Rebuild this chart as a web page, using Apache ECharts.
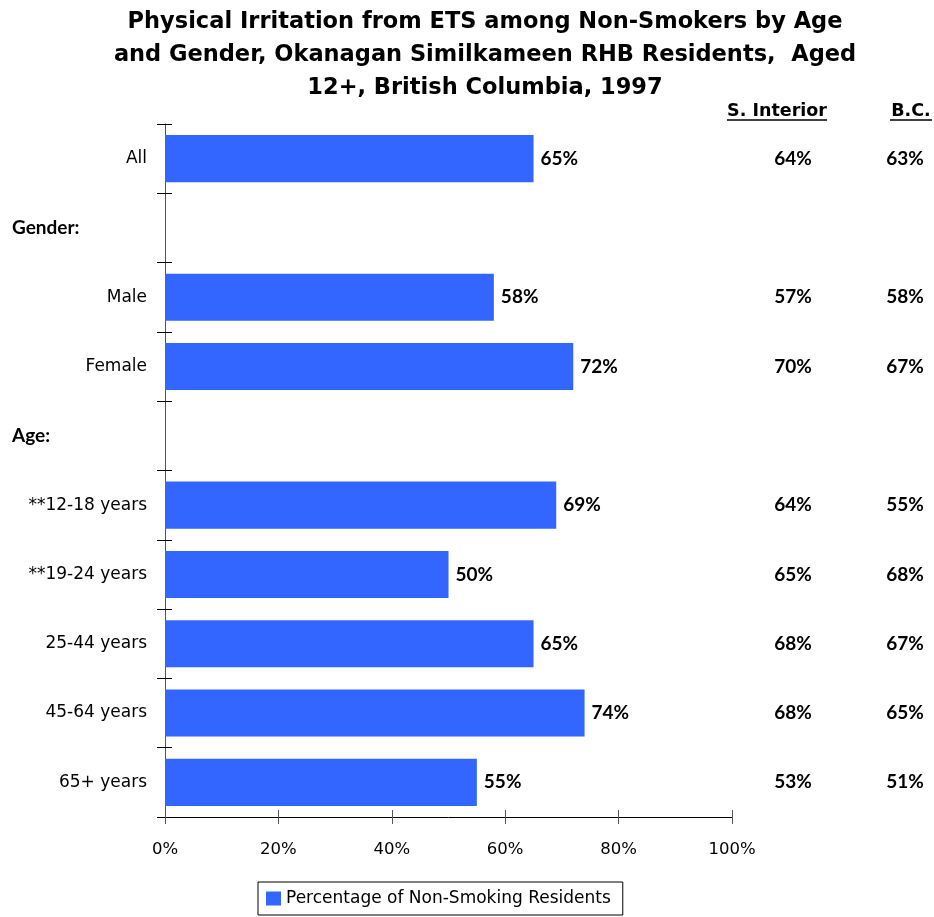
<!DOCTYPE html>
<html>
<head>
<meta charset="utf-8">
<script src="https://cdn.jsdelivr.net/npm/echarts@6/dist/echarts.min.js"></script>
<style>
  html, body { margin: 0; padding: 0; background: #fff; }
  #chart { width: 934px; height: 917px; }
</style>
</head>
<body>
<div id="chart"></div>
<script>
// categories top to bottom, header rows have no values
var categories = ['All', 'Gender:', 'Male', 'Female', 'Age:', '**12-18 years', '**19-24 years', '25-44 years', '45-64 years', '65+ years'];
var headerRows = ['Gender:', 'Age:'];
var okanagan = [65, null, 58, 72, null, 69, 50, 65, 74, 55];
var sInterior = [64, null, 57, 70, null, 64, 65, 68, 68, 53];
var bcValues = [63, null, 58, 67, null, 55, 68, 67, 65, 51];
var compareCols = ['S. Interior', 'B.C.'];

var font = 'DejaVu Sans, Verdana, sans-serif';
var boldFont = 'Lato, DejaVu Sans, sans-serif';
var blue = '#3366FF';

// table points for the comparison columns
function colData(col, arr) {
    var out = [];
    for (var i = 0; i < arr.length; i++) {
        if (arr[i] != null) out.push([col, categories[i], arr[i]]);
    }
    return out;
}

var valueLabel = {
    show: true, position: 'inside',
    fontFamily: boldFont, fontSize: 19, fontWeight: 'bold', color: '#000',
    formatter: function (p) { return p.value[2] + '%'; }
};

var chart = echarts.init(document.getElementById('chart'));
chart.setOption({
    animation: false,
    title: {
        text: 'Physical Irritation from ETS among Non-Smokers by Age\nand Gender, Okanagan Similkameen RHB Residents,  Aged\n12+, British Columbia, 1997',
        left: 480,
        textAlign: 'center',
        top: 1,
        textStyle: {
            fontFamily: font,
            fontSize: 22.5,
            fontWeight: 'bold',
            lineHeight: 33,
            color: '#000'
        }
    },
    legend: {
        bottom: 2,
        left: 258,
        data: ['Percentage of Non-Smoking Residents'],
        icon: 'rect',
        itemWidth: 15,
        itemHeight: 14,
        borderColor: '#000',
        borderWidth: 1,
        borderRadius: 0,
        padding: [8, 12, 8, 8],
        textStyle: { fontFamily: font, fontSize: 17, color: '#000', padding: [0, 0, 0, 0] }
    },
    grid: [
        { left: 165, right: 202, top: 124, bottom: 100 },
        { left: 793, right: 29, top: 124, bottom: 100 }
    ],
    xAxis: [
        {
            gridIndex: 0, type: 'value', min: 0, max: 100, interval: 20,
            axisLine: { show: true, lineStyle: { color: '#000', width: 1 } },
            axisTick: { show: true, length: 7, lineStyle: { color: '#555' } },
            splitLine: { show: false },
            axisLabel: {
                margin: 24, fontFamily: font, fontSize: 16.5, color: '#000',
                formatter: function (v) { return v + '%'; }
            }
        },
        {
            // inward half of the crossing ticks
            gridIndex: 0, type: 'value', min: 0, max: 100, interval: 20, position: 'bottom',
            axisLine: { show: false },
            axisTick: { show: true, inside: true, length: 7, lineStyle: { color: '#555' } },
            axisLabel: { show: false },
            splitLine: { show: false }
        },
        {
            gridIndex: 1, type: 'category', data: compareCols, position: 'top', boundaryGap: false,
            axisLine: { show: false },
            axisTick: { show: false },
            axisLabel: {
                margin: 4,
                formatter: function (v) { return v === 'S. Interior' ? '{si|' + v + '}' : '{bc|' + v + '}'; },
                rich: {
                    si: { fontFamily: font, fontSize: 17.5, fontWeight: 'bold', color: '#000', padding: [0, 32, 0, 0] },
                    bc: { fontFamily: font, fontSize: 17.5, fontWeight: 'bold', color: '#000', padding: [0, 0, 0, 12] }
                }
            }
        }
    ],
    yAxis: [
        {
            gridIndex: 0, type: 'category', data: categories, inverse: true,
            axisLine: { show: true, lineStyle: { color: '#555', width: 1 } },
            axisTick: { show: true, length: 8, lineStyle: { color: '#000' } },
            axisLabel: {
                margin: 18,
                formatter: function (v) {
                    return headerRows.indexOf(v) >= 0 ? '{h|' + v + '}' : '{n|' + v + '}';
                },
                rich: {
                    n: { fontFamily: font, fontSize: 17, color: '#000' },
                    h: { fontFamily: boldFont, fontSize: 19, fontWeight: 'bold', color: '#000', width: 135, align: 'left' }
                }
            }
        },
        {
            gridIndex: 0, type: 'category', data: categories, inverse: true, position: 'left',
            axisLine: { show: false },
            axisTick: { show: true, inside: true, length: 7, lineStyle: { color: '#000' } },
            axisLabel: { show: false }
        },
        {
            gridIndex: 1, type: 'category', data: categories, inverse: true,
            show: false
        }
    ],
    graphic: [
        // underlines under the column headers
        { type: 'line', shape: { x1: 727, y1: 120, x2: 827, y2: 120 }, style: { stroke: '#000', lineWidth: 1.5 } },
        { type: 'line', shape: { x1: 890, y1: 120, x2: 932, y2: 120 }, style: { stroke: '#000', lineWidth: 1.5 } }
    ],
    series: [
        {
            name: 'Percentage of Non-Smoking Residents',
            type: 'bar',
            xAxisIndex: 0, yAxisIndex: 0,
            data: okanagan,
            barCategoryGap: '32%',
            itemStyle: { color: blue },
            label: {
                show: true, position: 'right', distance: 7,
                fontFamily: boldFont, fontSize: 19, fontWeight: 'bold', color: '#000',
                formatter: function (p) { return p.value + '%'; }
            }
        },
        {
            name: 'S. Interior',
            type: 'scatter',
            xAxisIndex: 2, yAxisIndex: 2,
            data: colData('S. Interior', sInterior),
            symbolSize: 1,
            itemStyle: { color: 'transparent', opacity: 1 },
            label: valueLabel
        },
        {
            name: 'B.C.',
            type: 'scatter',
            xAxisIndex: 2, yAxisIndex: 2,
            data: colData('B.C.', bcValues),
            symbolSize: 1,
            itemStyle: { color: 'transparent', opacity: 1 },
            label: valueLabel
        }
    ]
});
</script>
</body>
</html>
